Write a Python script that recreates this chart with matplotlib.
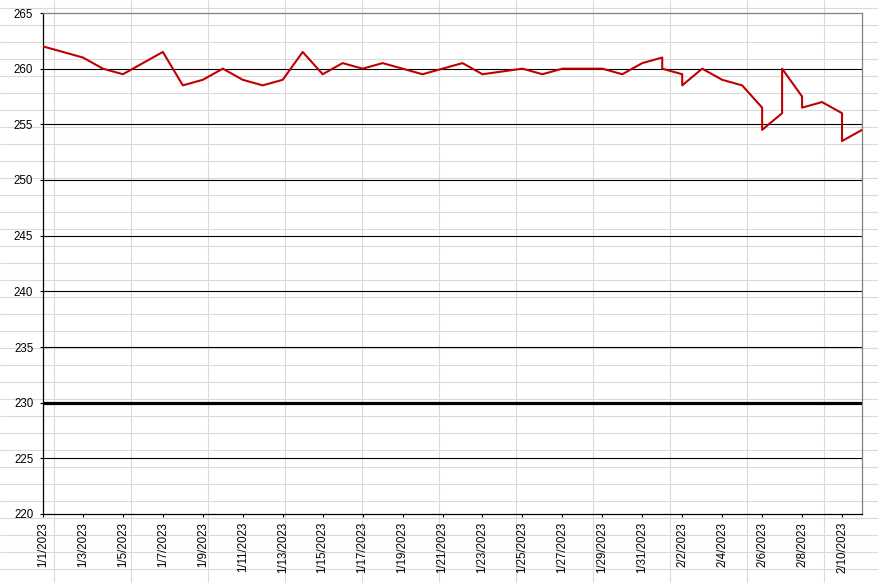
import numpy as np
import pandas as pd
import matplotlib
matplotlib.use('Agg')
import matplotlib.pyplot as plt
import matplotlib.dates as mdates

# data (duplicate dates give the vertical steps)
dates = ['2023-01-01', '2023-01-03', '2023-01-04', '2023-01-05', '2023-01-07',
         '2023-01-08', '2023-01-09', '2023-01-10', '2023-01-11', '2023-01-12',
         '2023-01-13', '2023-01-14', '2023-01-15', '2023-01-16', '2023-01-17',
         '2023-01-18', '2023-01-20', '2023-01-22', '2023-01-23', '2023-01-25',
         '2023-01-26', '2023-01-27', '2023-01-29', '2023-01-30', '2023-01-31',
         '2023-02-01', '2023-02-01', '2023-02-02', '2023-02-02', '2023-02-03',
         '2023-02-04', '2023-02-05', '2023-02-06', '2023-02-06', '2023-02-07',
         '2023-02-07', '2023-02-08', '2023-02-08', '2023-02-09', '2023-02-10',
         '2023-02-10', '2023-02-11']
values = [262, 261, 260, 259.5, 261.5,
          258.5, 259, 260, 259, 258.5,
          259, 261.5, 259.5, 260.5, 260,
          260.5, 259.5, 260.5, 259.5, 260,
          259.5, 260, 260, 259.5, 260.5,
          261, 260, 259.5, 258.5, 260,
          259, 258.5, 256.5, 254.5, 256,
          260, 257.5, 256.5, 257, 256,
          253.5, 254.5]
limit = 230
y_ticks = [220, 225, 230, 235, 240, 245, 250, 255, 260, 265]
x_start, x_end = '2023-01-01', '2023-02-11'
x_ticks = pd.date_range('2023-01-01', '2023-02-10', freq='2D')
x_labels = [f'{d.month}/{d.day}/{d.year}' for d in x_ticks]

plt.rcParams['font.family'] = ['Liberation Sans', 'DejaVu Sans']
plt.rcParams['font.size'] = 8.3

W, H = 879, 583
fig = plt.figure(figsize=(W / 100, H / 100), dpi=100)

#------------------------------------------------------------------------------
# spreadsheet cell grid behind the (transparent) chart
bg = fig.add_axes([0, 0, 1, 1], zorder=0)
bg.set_xlim(0, W); bg.set_ylim(H, 0); bg.axis('off')
bg.vlines(np.arange(54.3, W, 77), 0, H, color='#dadada', lw=0.8)
bg.hlines(np.arange(8.3, H, 17), 0, W, color='#dadada', lw=0.8)

#------------------------------------------------------------------------------
ax = fig.add_axes([43 / W, (H - 514) / H, (862 - 43) / W, (514 - 13) / H], zorder=1)
ax.patch.set_alpha(0)

x = pd.to_datetime(dates)
ax.hlines(y_ticks[1:-1], 0, 1, transform=ax.get_yaxis_transform(), color='black', lw=0.8, zorder=1)
ax.axhline(limit, color='black', lw=2.3, zorder=2)
ax.plot(x, values, color='#C00000', lw=1.5, zorder=3)

ax.set_xlim(pd.Timestamp(x_start), pd.Timestamp(x_end))
ax.set_ylim(y_ticks[0], y_ticks[-1])
ax.set_yticks(y_ticks)
ax.set_xticks(x_ticks)
ax.set_xticklabels(x_labels, rotation=90)
ax.tick_params(axis='x', direction='out', length=2.5, width=0.8, pad=3.2, colors='black')
ax.tick_params(axis='y', direction='out', length=2.5, width=0.8, pad=4.5, colors='black')

for s in ['top', 'right']:
    ax.spines[s].set_color('#808080'); ax.spines[s].set_linewidth(0.9)
for s in ['left', 'bottom']:
    ax.spines[s].set_color('black'); ax.spines[s].set_linewidth(0.9)

fig.savefig('out.png', dpi=100)
